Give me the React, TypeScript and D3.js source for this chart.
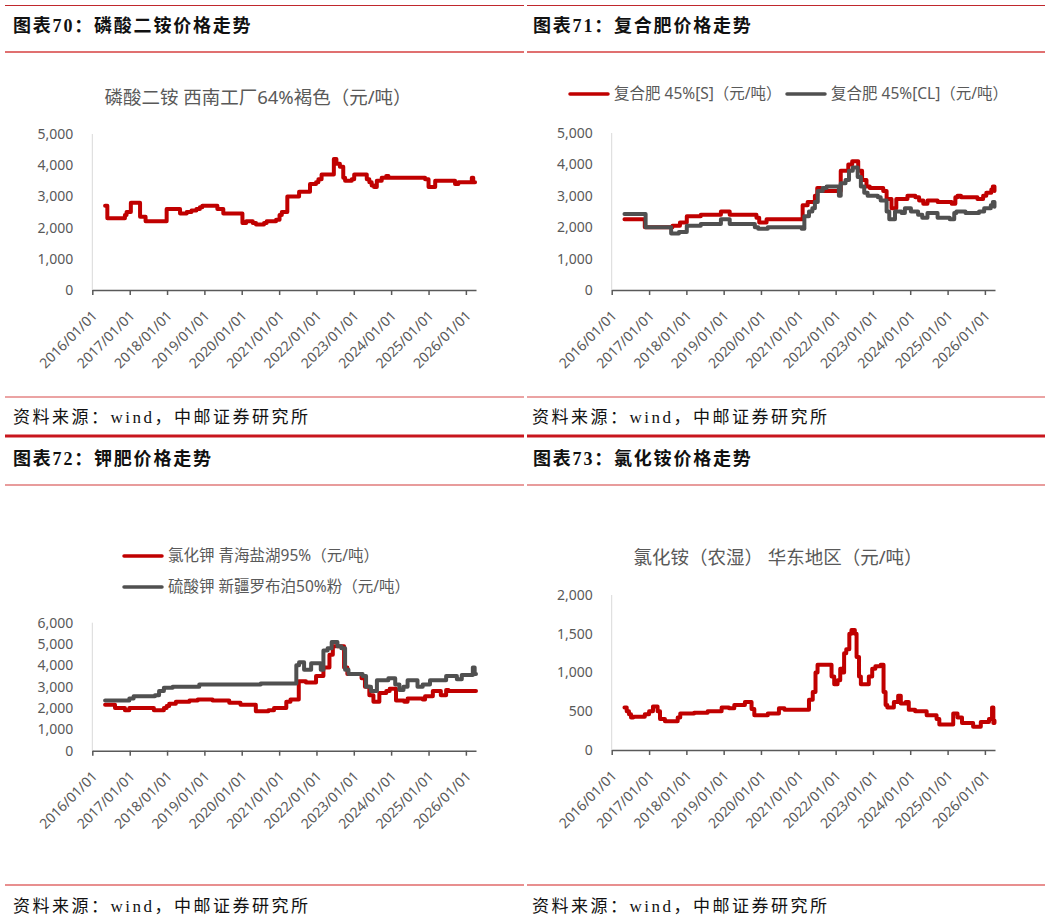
import { useEffect, useRef } from "react";
import * as d3 from "d3";

type Pt = [string, number];

// 磷酸二铵 西南工厂64%褐色
const dapPrice: Pt[] = [
  ["2016-05-05", 2700], ["2016-05-27", 2300], ["2016-11-15", 2400], ["2016-12-01", 2500],
  ["2017-01-12", 2800], ["2017-04-12", 2350], ["2017-06-05", 2200], ["2017-12-28", 2600],
  ["2018-05-08", 2450], ["2018-07-12", 2500], ["2018-08-28", 2550], ["2018-10-15", 2600],
  ["2018-11-18", 2650], ["2018-12-12", 2700], ["2019-05-08", 2600], ["2019-07-05", 2450],
  ["2020-01-08", 2150], ["2020-02-14", 2200], ["2020-04-18", 2150], ["2020-05-20", 2100],
  ["2020-08-06", 2150], ["2020-09-01", 2200], ["2020-12-02", 2250], ["2021-01-05", 2400],
  ["2021-01-27", 2500], ["2021-03-22", 3000], ["2021-07-15", 3150], ["2021-10-30", 3400],
  ["2021-12-28", 3450], ["2022-01-20", 3550], ["2022-02-20", 3700], ["2022-06-20", 4200],
  ["2022-07-15", 4050], ["2022-08-18", 3950], ["2022-09-20", 3600], ["2022-10-08", 3500],
  ["2022-12-12", 3550], ["2023-01-05", 3700], ["2023-05-08", 3550], ["2023-06-02", 3450],
  ["2023-06-25", 3350], ["2023-07-18", 3300], ["2023-08-14", 3500], ["2023-10-01", 3600],
  ["2023-11-14", 3650], ["2023-12-06", 3600], ["2024-11-28", 3550], ["2025-01-01", 3300],
  ["2025-03-07", 3500], ["2025-09-17", 3400], ["2025-10-20", 3450], ["2026-02-28", 3600],
  ["2026-03-14", 3450], ["2026-04-01", 3450],
];

// 复合肥 45%[S]
const compoundS: Pt[] = [
  ["2016-05-05", 2250], ["2016-11-20", 2000], ["2017-08-18", 2050], ["2017-10-30", 2150],
  ["2018-01-05", 2350], ["2018-05-22", 2400], ["2018-12-05", 2500], ["2019-03-01", 2400],
  ["2019-11-18", 2300], ["2019-12-15", 2150], ["2020-02-25", 2250], ["2021-02-12", 2700],
  ["2021-04-02", 2800], ["2021-06-12", 3000], ["2021-07-05", 3250], ["2021-08-08", 3150],
  ["2022-02-20", 3800], ["2022-05-05", 4000], ["2022-06-12", 4100], ["2022-08-10", 3800],
  ["2022-09-17", 3500], ["2022-10-30", 3300], ["2022-12-01", 3250], ["2023-04-12", 3150],
  ["2023-05-15", 2900], ["2023-07-02", 2600], ["2023-08-18", 2900], ["2023-12-05", 3000],
  ["2024-02-20", 2950], ["2024-03-28", 2850], ["2024-05-08", 2750], ["2024-06-18", 2850],
  ["2024-09-25", 2800], ["2025-02-10", 2750], ["2025-03-18", 2950], ["2025-04-08", 3000],
  ["2025-05-12", 2950], ["2025-10-20", 2900], ["2025-12-15", 3000], ["2026-01-15", 3100],
  ["2026-03-05", 3200], ["2026-03-20", 3300], ["2026-04-05", 3150],
];

// 复合肥 45%[CL]
const compoundCL: Pt[] = [
  ["2016-05-05", 2420], ["2016-11-28", 2000], ["2017-08-05", 1800], ["2017-10-20", 1850],
  ["2018-01-05", 2050], ["2018-05-22", 2100], ["2018-12-05", 2250], ["2019-03-01", 2100],
  ["2019-11-02", 2000], ["2019-12-05", 1950], ["2020-03-08", 2000], ["2021-02-02", 1950],
  ["2021-03-01", 2350], ["2021-04-15", 2500], ["2021-05-18", 2600], ["2021-06-12", 2800],
  ["2021-07-10", 3150], ["2021-08-28", 3250], ["2021-10-05", 3300], ["2022-02-02", 3000],
  ["2022-02-20", 3400], ["2022-04-08", 3500], ["2022-05-12", 3800], ["2022-06-18", 3900],
  ["2022-08-05", 3600], ["2022-09-05", 3300], ["2022-10-08", 3100], ["2022-11-10", 3000],
  ["2023-02-18", 2950], ["2023-03-18", 2850], ["2023-05-15", 2500], ["2023-06-10", 2250],
  ["2023-08-05", 2500], ["2023-10-08", 2450], ["2023-11-10", 2600], ["2024-01-08", 2500],
  ["2024-03-18", 2400], ["2024-04-28", 2300], ["2024-06-18", 2450], ["2024-09-25", 2300],
  ["2025-01-22", 2250], ["2025-03-07", 2450], ["2025-03-28", 2500], ["2025-06-25", 2450],
  ["2025-11-05", 2500], ["2025-12-25", 2600], ["2026-02-28", 2700], ["2026-03-20", 2800],
  ["2026-04-05", 2650],
];

// 氯化钾 青海盐湖95%
const kclPrice: Pt[] = [
  ["2016-05-05", 2150], ["2016-08-10", 2000], ["2016-11-15", 1900], ["2016-12-28", 2000],
  ["2017-08-25", 1900], ["2017-12-01", 2000], ["2017-12-28", 2100], ["2018-01-22", 2200],
  ["2018-03-28", 2300], ["2018-08-08", 2350], ["2018-10-28", 2400], ["2019-03-22", 2350],
  ["2019-09-01", 2250], ["2019-12-20", 2150], ["2020-05-18", 1850], ["2020-09-18", 1900],
  ["2020-11-12", 2000], ["2021-03-12", 2300], ["2021-04-22", 2400], ["2021-07-12", 3250],
  ["2021-09-20", 3200], ["2021-12-28", 3500], ["2022-03-10", 3900], ["2022-05-08", 4500],
  ["2022-06-10", 4900], ["2022-09-28", 3900], ["2022-10-30", 3600], ["2023-03-18", 3400],
  ["2023-04-20", 3000], ["2023-06-02", 2600], ["2023-07-12", 2300], ["2023-09-08", 2700],
  ["2023-11-15", 2800], ["2023-12-18", 2900], ["2024-02-18", 2350], ["2024-05-08", 2300],
  ["2024-06-10", 2450], ["2024-11-05", 2400], ["2024-11-28", 2550], ["2025-02-12", 2800],
  ["2025-05-01", 2600], ["2025-06-22", 2850], ["2025-07-15", 2800], ["2026-04-10", 2800],
];

// 硫酸钾 新疆罗布泊50%粉
const k2so4Price: Pt[] = [
  ["2016-05-05", 2350], ["2016-12-28", 2450], ["2017-02-08", 2550], ["2017-09-05", 2600],
  ["2017-10-15", 2800], ["2017-12-01", 2950], ["2018-02-25", 3000], ["2018-11-12", 3100],
  ["2020-07-05", 3150], ["2021-06-18", 4000], ["2021-07-15", 4150], ["2021-09-02", 3800],
  ["2021-11-10", 4100], ["2022-02-12", 3800], ["2022-03-10", 4700], ["2022-04-20", 4800],
  ["2022-05-30", 5100], ["2022-07-25", 4900], ["2022-09-01", 4800], ["2022-10-08", 3800],
  ["2022-11-10", 3600], ["2023-03-28", 3500], ["2023-05-01", 3000], ["2023-06-18", 2800],
  ["2023-08-15", 3300], ["2023-12-05", 3400], ["2024-02-10", 3100], ["2024-03-22", 2850],
  ["2024-05-01", 3000], ["2024-06-10", 3300], ["2024-09-15", 3000], ["2024-11-05", 3100],
  ["2025-01-15", 3300], ["2025-06-22", 3500], ["2025-10-05", 3350], ["2025-11-22", 3550],
  ["2026-03-10", 3900], ["2026-03-28", 3600], ["2026-04-10", 3600],
];

// 氯化铵（农湿） 华东地区
const nh4clPrice: Pt[] = [
  ["2016-05-05", 550], ["2016-05-27", 500], ["2016-06-18", 460], ["2016-07-08", 420],
  ["2016-07-30", 430], ["2016-11-20", 460], ["2017-01-01", 500], ["2017-02-08", 560],
  ["2017-03-25", 500], ["2017-04-18", 400], ["2017-06-05", 370], ["2017-10-08", 420],
  ["2017-11-02", 470], ["2018-03-18", 480], ["2018-07-28", 500], ["2018-12-12", 550],
  ["2019-02-22", 540], ["2019-04-15", 580], ["2019-07-28", 620], ["2019-10-01", 530],
  ["2019-10-28", 450], ["2020-03-08", 470], ["2020-06-25", 540], ["2020-08-18", 520],
  ["2021-04-15", 650], ["2021-05-22", 750], ["2021-06-18", 1000], ["2021-07-08", 1100],
  ["2021-11-22", 950], ["2021-12-18", 850], ["2022-01-20", 900], ["2022-02-15", 1050],
  ["2022-03-05", 1000], ["2022-03-25", 1250], ["2022-04-15", 1300], ["2022-05-15", 1500],
  ["2022-06-05", 1550], ["2022-07-08", 1500], ["2022-07-25", 1200], ["2022-08-18", 950],
  ["2022-09-05", 850], ["2022-11-22", 950], ["2022-12-25", 1050], ["2023-01-25", 1080],
  ["2023-03-18", 1100], ["2023-04-15", 750], ["2023-05-05", 580], ["2023-05-22", 550],
  ["2023-07-25", 620], ["2023-09-05", 700], ["2023-10-01", 600], ["2023-11-18", 620],
  ["2023-12-18", 520], ["2024-02-18", 500], ["2024-06-10", 450], ["2024-09-15", 400],
  ["2024-10-12", 330], ["2025-02-25", 470], ["2025-04-08", 420], ["2025-05-22", 350],
  ["2025-09-08", 300], ["2025-11-22", 360], ["2026-02-10", 400], ["2026-03-12", 550],
  ["2026-03-25", 350], ["2026-04-05", 380],
];

const yearTicks = d3.range(2016, 2027).map((y) => `${y}-01-01`);
const ticks5000 = [0, 1000, 2000, 3000, 4000, 5000];
const ticks6000 = [0, 1000, 2000, 3000, 4000, 5000, 6000];
const ticks2000 = [0, 500, 1000, 1500, 2000];

const headings = ["图表70：磷酸二铵价格走势", "图表71：复合肥价格走势", "图表72：钾肥价格走势", "图表73：氯化铵价格走势"];
const sourceNote = "资料来源：wind，中邮证券研究所";
const dapTitle = "磷酸二铵 西南工厂64%褐色（元/吨）";
const nh4clTitle = "氯化铵（农湿） 华东地区（元/吨）";
const compoundLabels = ["复合肥 45%[S]（元/吨）", "复合肥 45%[CL]（元/吨）"];
const potashLabels = ["氯化钾 青海盐湖95%（元/吨）", "硫酸钾 新疆罗布泊50%粉（元/吨）"];

const RED = "#c00000";
const GRAY = "#505050";
const TEXT = "#595959";
const SANS = "'Noto Sans', 'Noto Sans CJK SC', sans-serif";
const SERIF = "'Liberation Serif', 'Noto Sans CJK SC', serif";

const parse = d3.timeParse("%Y-%m-%d");
const fmt = d3.timeFormat("%Y/%m/%d");

interface PanelCfg {
  left: number;
  right: number;
  top: number;
  bottom: number;
  max: number;
  ticks: number[];
  series: { data: Pt[]; color: string }[];
}

function drawPanel(g: d3.Selection<SVGGElement, unknown, null, undefined>, cfg: PanelCfg) {
  const x = d3
    .scaleTime()
    .domain([parse("2016-01-01")!, parse("2026-04-10")!])
    .range([cfg.left, cfg.right]);
  const y = d3.scaleLinear().domain([0, cfg.max]).range([cfg.bottom, cfg.top]);

  // light vertical axis
  g.append("line")
    .attr("x1", cfg.left)
    .attr("x2", cfg.left)
    .attr("y1", cfg.top)
    .attr("y2", cfg.bottom)
    .attr("stroke", "#d9d9d9")
    .attr("stroke-width", 1);

  cfg.ticks.forEach((t) => {
    g.append("text")
      .attr("x", cfg.left - 19)
      .attr("y", y(t))
      .attr("dy", "0.35em")
      .attr("text-anchor", "end")
      .attr("fill", TEXT)
      .attr("font-family", SANS)
      .attr("font-size", 14)
      .text(d3.format(",")(t));
  });

  const line = d3
    .line<Pt>()
    .x((d) => x(parse(d[0])!))
    .y((d) => y(d[1]))
    .curve(d3.curveStepAfter);

  cfg.series.forEach(({ data, color }) => {
    g.append("path")
      .datum(data)
      .attr("fill", "none")
      .attr("stroke", color)
      .attr("stroke-width", 4)
      .attr("stroke-linejoin", "round")
      .attr("stroke-linecap", "round")
      .attr("d", line);
  });

  const axis = d3
    .axisBottom(x)
    .tickValues(yearTicks.map((s) => parse(s)!))
    .tickFormat((d) => fmt(d as Date))
    .tickSize(5)
    .tickSizeOuter(0);

  const ax = g.append("g").attr("transform", `translate(0,${cfg.bottom})`).call(axis);
  ax.attr("font-family", SANS).attr("font-size", 14);

  ax.select(".domain").attr("stroke", "#595959").attr("stroke-width", 1.5);
  ax.selectAll(".tick line").attr("stroke", "#595959").attr("stroke-width", 1.5);
  ax.selectAll(".tick text")
    .attr("x", 0)
    .attr("y", 0)
    .attr("dy", "0.35em")
    .attr("transform", "translate(2,23) rotate(-45)")
    .attr("text-anchor", "end")
    .attr("fill", TEXT);
}

export default function App() {
  const svgRef = useRef<SVGSVGElement>(null);

  useEffect(() => {
    if (!svgRef.current) return;
    const svg = d3.select(svgRef.current);
    svg.selectAll("*").remove();

    svg.append("rect").attr("width", 1050).attr("height", 920).attr("fill", "#fff");

    // frame rules around headings and sources
    const halves = [
      [5, 524],
      [527, 1045],
    ];
    const rule = (y: number, color: string, w: number) =>
      halves.forEach(([a, b]) =>
        svg.append("line").attr("x1", a).attr("x2", b).attr("y1", y).attr("y2", y).attr("stroke", color).attr("stroke-width", w)
      );
    rule(5.5, "#c0282d", 1.2);
    rule(52, "#e07070", 2);
    rule(397, "#d84848", 1.2);
    rule(436, "#c8161d", 3);
    rule(485, "#d23a3a", 1.2);
    rule(885, "#e06a6a", 1.5);

    const heading = (x: number, y: number, s: string) =>
      svg.append("text")
        .attr("x", x)
        .attr("y", y)
        .attr("font-family", SERIF)
        .attr("font-weight", "bold")
        .attr("font-size", 18)
        .attr("letter-spacing", 1.8)
        .attr("fill", "#111")
        .text(s);
    heading(13, 32, headings[0]);
    heading(533, 32, headings[1]);
    heading(13, 465, headings[2]);
    heading(533, 465, headings[3]);

    const note = (x: number, y: number) =>
      svg.append("text")
        .attr("x", x)
        .attr("y", y)
        .attr("font-family", SERIF)
        .attr("font-size", 17)
        .attr("letter-spacing", 2.5)
        .attr("fill", "#111")
        .text(sourceNote);
    note(13, 423);
    note(532, 423);
    note(13, 912);
    note(532, 912);

    const chartTitle = (x: number, y: number, s: string) =>
      svg.append("text")
        .attr("x", x)
        .attr("y", y)
        .attr("text-anchor", "middle")
        .attr("font-family", SANS)
        .attr("font-size", 18.5)
        .attr("fill", TEXT)
        .text(s);
    chartTitle(258, 104, dapTitle);
    chartTitle(778, 564, nh4clTitle);

    const legendItem = (x: number, y: number, color: string, s: string) => {
      svg.append("line")
        .attr("x1", x)
        .attr("x2", x + 38)
        .attr("y1", y)
        .attr("y2", y)
        .attr("stroke", color)
        .attr("stroke-width", 3.5)
        .attr("stroke-linecap", "round");
      svg.append("text")
        .attr("x", x + 44)
        .attr("y", y)
        .attr("dy", "0.35em")
        .attr("font-family", SANS)
        .attr("font-size", 15.5)
        .attr("fill", TEXT)
        .text(s);
    };
    legendItem(570, 94, RED, compoundLabels[0]);
    legendItem(787, 94, GRAY, compoundLabels[1]);
    legendItem(124, 556, RED, potashLabels[0]);
    legendItem(124, 587, GRAY, potashLabels[1]);

    drawPanel(svg.append("g"), {
      left: 92.3, right: 476, top: 134, bottom: 290, max: 5000, ticks: ticks5000,
      series: [{ data: dapPrice, color: RED }],
    });
    drawPanel(svg.append("g"), {
      left: 611.7, right: 995, top: 133, bottom: 290, max: 5000, ticks: ticks5000,
      series: [
        { data: compoundS, color: RED },
        { data: compoundCL, color: GRAY },
      ],
    });
    drawPanel(svg.append("g"), {
      left: 92.3, right: 476, top: 622.7, bottom: 750.7, max: 6000, ticks: ticks6000,
      series: [
        { data: kclPrice, color: RED },
        { data: k2so4Price, color: GRAY },
      ],
    });
    drawPanel(svg.append("g"), {
      left: 611.7, right: 995, top: 595, bottom: 750, max: 2000, ticks: ticks2000,
      series: [{ data: nh4clPrice, color: RED }],
    });
  }, []);

  return (
    <div style={{ position: "absolute", left: 0, top: 0 }}>
      <svg ref={svgRef} width={1050} height={920} viewBox="0 0 1050 920" style={{ display: "block" }} />
    </div>
  );
}
